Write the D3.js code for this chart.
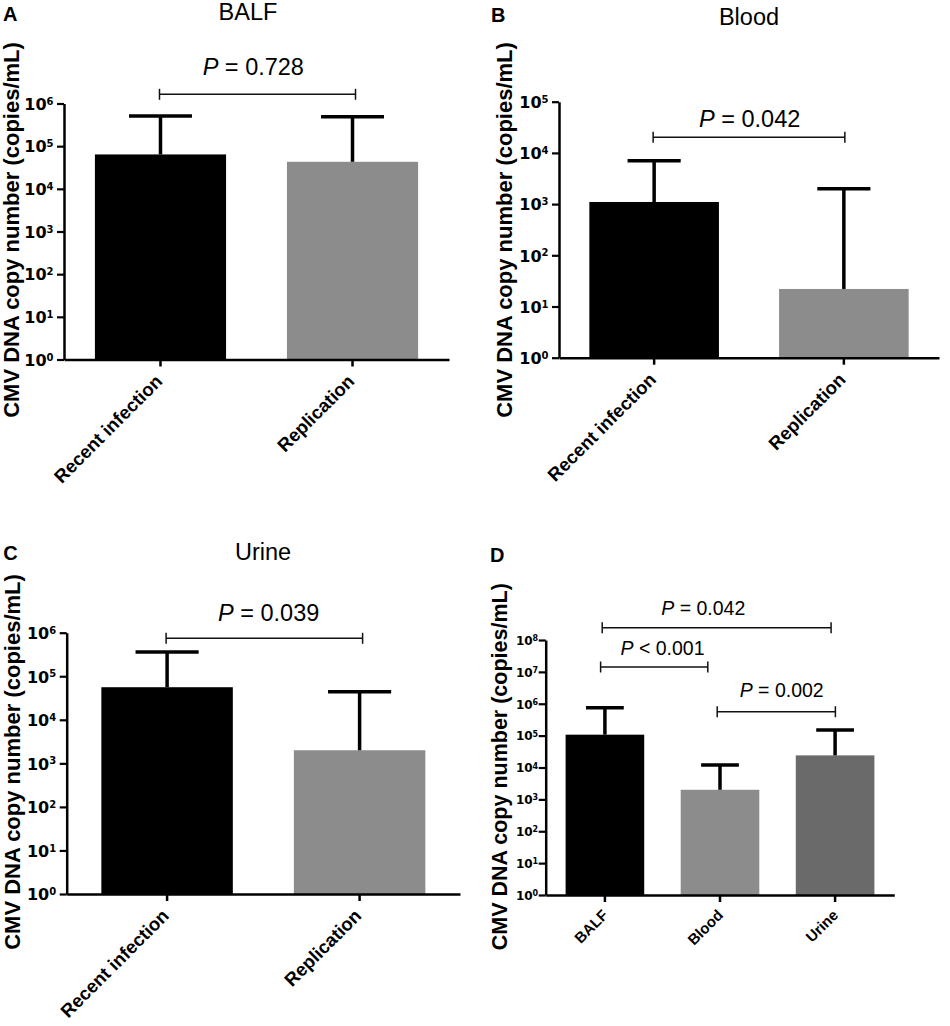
<!DOCTYPE html>
<html><head><meta charset="utf-8">
<script src="https://cdn.jsdelivr.net/npm/d3@7"></script>
<style>body{margin:0;background:#fff}svg{display:block}</style>
</head><body>
<svg id="chart" width="950" height="1026"></svg>
<script>
// ---------- data ----------
const infectionCategories = ["Recent infection", "Replication"];
const balfMeans  = [64000, 43000];
const balfUpper  = [510000, 490000];
const bloodMeans = [1100, 22];
const bloodUpper = [7000, 2000];
const urineMeans = [56000, 2000];
const urineUpper = [360000, 44000];
const specimenCategories = ["BALF", "Blood", "Urine"];
const specimenMeans = [107000, 2000, 24000];
const specimenUpper = [750000, 12000, 150000];
const tickExponents6 = [0, 1, 2, 3, 4, 5, 6];
const tickExponents5 = [0, 1, 2, 3, 4, 5];
const tickExponents8 = [0, 1, 2, 3, 4, 5, 6, 7, 8];
const balfComparisons  = [{a: 0, b: 1, p: "= 0.728"}];
const bloodComparisons = [{a: 0, b: 1, p: "= 0.042"}];
const urineComparisons = [{a: 0, b: 1, p: "= 0.039"}];
const specimenComparisons = [
  {a: 0, b: 2, p: "= 0.042"},
  {a: 0, b: 1, p: "< 0.001"},
  {a: 1, b: 2, p: "= 0.002"}
];
const panelTitles = ["BALF", "Blood", "Urine", ""];
const panelLetters = ["A", "B", "C", "D"];
const yAxisTitle = "CMV DNA copy number (copies/mL)";

// ---------- styles ----------
const BLACK = "#000000", GRAY = "#8c8c8c", DARK = "#6a6a6a";
const AX_FONT = "'Liberation Sans', Arial, sans-serif";
const NUM_FONT = "'DejaVu Sans', sans-serif";

const svg = d3.select("#chart");

const panels = [
  { cats: infectionCategories, means: balfMeans, upper: balfUpper, ticks: tickExponents6,
    comps: balfComparisons, colors: [BLACK, GRAY], title: panelTitles[0], letter: panelLetters[0],
    L: { x0: 64, x1: 449, yb: 359.5, yt: 103.5, outer: 0.161, cap: 0.48,
         tickFont: 16, supFont: 10, supDy: -5.2, tickGap: 10.5,
         xFont: 18.5, xdx: 3, xdy: 23,
         yt_x: 18.5, yt_y: 230, yt_size: 22,
         title: [248, 20], letter: [3, 21],
         brY: [94.3], brOff: [[-1, 3]], pPos: [[253.3, 75]], pFont: 23.5 } },
  { cats: infectionCategories, means: bloodMeans, upper: bloodUpper, ticks: tickExponents5,
    comps: bloodComparisons, colors: [BLACK, GRAY], title: panelTitles[1], letter: panelLetters[1],
    L: { x0: 559, x1: 939, yb: 357.7, yt: 101.7, outer: 0.16, cap: 0.41,
         tickFont: 16, supFont: 10, supDy: -5.2, tickGap: 10.5,
         xFont: 18.5, xdx: 3, xdy: 23,
         yt_x: 512, yt_y: 230, yt_size: 22,
         title: [749, 25], letter: [491, 21.7],
         brY: [137.3], brOff: [[-1, 1]], pPos: [[749.7, 126.7]], pFont: 23.5 } },
  { cats: infectionCategories, means: urineMeans, upper: urineUpper, ticks: tickExponents6,
    comps: urineComparisons, colors: [BLACK, GRAY], title: panelTitles[2], letter: panelLetters[2],
    L: { x0: 66.7, x1: 460, yb: 894, yt: 632.7, outer: 0.18, cap: 0.48,
         tickFont: 16, supFont: 10, supDy: -5.2, tickGap: 10.5,
         xFont: 18.5, xdx: 3, xdy: 23,
         yt_x: 19.5, yt_y: 762, yt_size: 22,
         title: [263, 560], letter: [3.3, 560],
         brY: [638.3], brOff: [[-1, 3]], pPos: [[268.7, 621]], pFont: 23.5 } },
  { cats: specimenCategories, means: specimenMeans, upper: specimenUpper, ticks: tickExponents8,
    comps: specimenComparisons, colors: [BLACK, GRAY, DARK], title: panelTitles[3], letter: panelLetters[3],
    L: { x0: 545.7, x1: 894.3, yb: 895, yt: 640, outer: 0.173, cap: 0.48,
         tickFont: 12, supFont: 8, supDy: -3.8, tickGap: 7.5,
         xFont: 15, xdx: 4, xdy: 21,
         yt_x: 506.5, yt_y: 766.7, yt_size: 21.5,
         title: [700, 560], letter: [490, 562],
         brY: [627.7, 667, 711.7], brOff: [[-2.7, -4], [-4.3, -12.2], [-2.8, 0.3]],
         pPos: [[703.3, 615], [662.5, 655], [781.7, 696.7]], pFont: 19.5 } }
];

function drawPanel(P) {
  const L = P.L;
  const g = svg.append("g");
  const x = d3.scaleBand().domain(P.cats).range([L.x0, L.x1])
    .paddingInner(0.317).paddingOuter(L.outer);
  const y = d3.scaleLog().domain([1, Math.pow(10, d3.max(P.ticks))]).range([L.yb, L.yt]);
  const bw = x.bandwidth();
  const cx = d => x(d) + bw / 2;

  // bars
  g.selectAll("rect.bar").data(P.cats).join("rect").attr("class", "bar")
    .attr("x", d => x(d)).attr("width", bw)
    .attr("y", (d, i) => y(P.means[i]))
    .attr("height", (d, i) => y(1) - y(P.means[i]))
    .attr("fill", (d, i) => P.colors[i]);

  // error bars (upper only)
  const eb = g.selectAll("g.err").data(P.cats).join("g").attr("class", "err")
    .attr("stroke", "#000").attr("stroke-width", 3.5);
  eb.append("line")
    .attr("x1", d => cx(d)).attr("x2", d => cx(d))
    .attr("y1", (d, i) => y(P.means[i])).attr("y2", (d, i) => y(P.upper[i]));
  eb.append("line")
    .attr("x1", d => cx(d) - bw * L.cap / 2).attr("x2", d => cx(d) + bw * L.cap / 2)
    .attr("y1", (d, i) => y(P.upper[i])).attr("y2", (d, i) => y(P.upper[i]));

  // y axis
  const ya = g.append("g").attr("transform", `translate(${L.x0},0)`)
    .call(d3.axisLeft(y).tickValues(P.ticks.map(e => Math.pow(10, e)))
      .tickSize(7).tickSizeOuter(0));
  ya.select(".domain").attr("stroke", "#000").attr("stroke-width", 2.5);
  ya.selectAll(".tick line").attr("stroke", "#000").attr("stroke-width", 2.2);
  ya.selectAll(".tick text").each(function(d) {
    const t = d3.select(this).text(null)
      .attr("x", -L.tickGap).attr("dy", "0.36em")
      .attr("text-anchor", "end").attr("fill", "#000")
      .attr("font-family", NUM_FONT).attr("font-weight", "bold")
      .attr("font-size", L.tickFont);
    t.append("tspan").text("10");
    t.append("tspan").attr("font-size", L.supFont).attr("dy", L.supDy)
      .text(Math.round(Math.log10(d)));
  });

  // x axis
  const xa = g.append("g").attr("transform", `translate(0,${L.yb})`)
    .call(d3.axisBottom(x).tickSize(7).tickSizeOuter(0));
  xa.select(".domain").attr("stroke", "#000").attr("stroke-width", 2.5);
  xa.selectAll(".tick line").attr("stroke", "#000").attr("stroke-width", 2.5);
  xa.selectAll(".tick text")
    .attr("x", 0).attr("y", 0).attr("dy", 0)
    .attr("transform", `translate(${L.xdx},${L.xdy}) rotate(-45)`)
    .attr("text-anchor", "end").attr("fill", "#000")
    .attr("font-family", AX_FONT).attr("font-weight", "bold")
    .attr("font-size", L.xFont);

  // y axis title
  g.append("text")
    .attr("transform", `translate(${L.yt_x},${L.yt_y}) rotate(-90)`)
    .attr("text-anchor", "middle").attr("font-family", AX_FONT)
    .attr("font-weight", "bold").attr("font-size", L.yt_size).attr("fill", "#000")
    .text(yAxisTitle);

  // panel title and letter
  if (P.title) {
    g.append("text").attr("x", L.title[0]).attr("y", L.title[1])
      .attr("text-anchor", "middle").attr("font-family", AX_FONT)
      .attr("font-size", 23.5).attr("fill", "#000").text(P.title);
  }
  g.append("text").attr("x", L.letter[0]).attr("y", L.letter[1])
    .attr("font-family", AX_FONT).attr("font-weight", "bold")
    .attr("font-size", 20).attr("fill", "#000").text(P.letter);

  // significance brackets
  P.comps.forEach((c, k) => {
    const xa1 = cx(P.cats[c.a]) + L.brOff[k][0];
    const xb1 = cx(P.cats[c.b]) + L.brOff[k][1];
    const by = L.brY[k];
    const bg = g.append("g").attr("stroke", "#111").attr("stroke-width", 1.5);
    bg.append("line").attr("x1", xa1).attr("x2", xb1).attr("y1", by).attr("y2", by);
    bg.append("line").attr("x1", xa1).attr("x2", xa1).attr("y1", by - 5.5).attr("y2", by + 5.5);
    bg.append("line").attr("x1", xb1).attr("x2", xb1).attr("y1", by - 5.5).attr("y2", by + 5.5);
    const t = g.append("text").attr("x", L.pPos[k][0]).attr("y", L.pPos[k][1])
      .attr("text-anchor", "middle").attr("font-family", AX_FONT)
      .attr("font-size", L.pFont).attr("fill", "#000");
    t.append("tspan").attr("font-style", "italic").text("P");
    t.append("tspan").text(" " + c.p);
  });
}

panels.forEach(drawPanel);
</script>
</body></html>
